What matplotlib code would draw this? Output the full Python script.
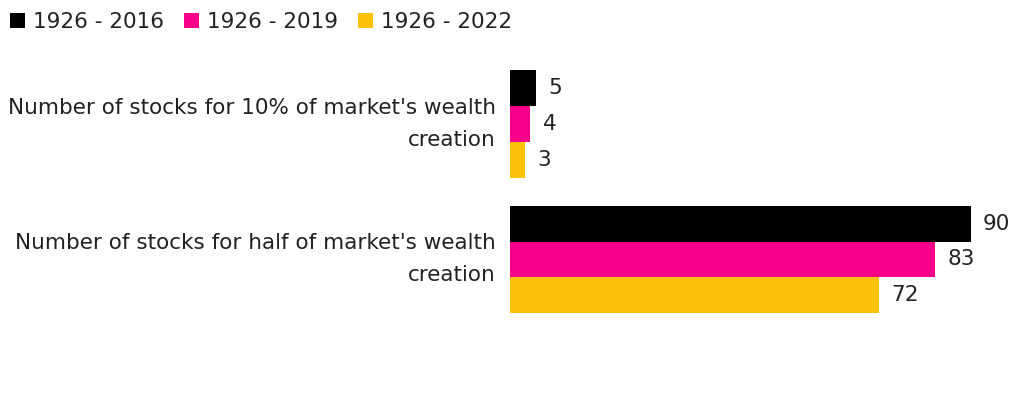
import numpy as np
import matplotlib
matplotlib.use("Agg")
import matplotlib.pyplot as plt

plt.rcParams['font.family'] = ['DejaVu Sans']

# Data
categories = ["Number of stocks for 10% of market's wealth\ncreation",
              "Number of stocks for half of market's wealth\ncreation"]
periods = ["1926 - 2016", "1926 - 2019", "1926 - 2022"]
values_2016 = [5, 90]
values_2019 = [4, 83]
values_2022 = [3, 72]
colors = ["#000000", "#f7018a", "#fdc10a"]

series = [values_2016, values_2019, values_2022]
fs = 15.5
txt_col = "#222222"

fig = plt.figure(figsize=(10.25, 3.97), dpi=100)
ax = fig.add_axes([510 / 1025, 0, 490 / 1025, 1])

y = np.arange(len(categories))
h = 0.265
for i, (vals, col, lab) in enumerate(zip(series, colors, periods)):
    pos = y + (i - 1) * h
    bars = ax.barh(pos, vals, height=h, color=col, label=lab)
    for b, v in zip(bars, vals):
        ax.text(b.get_width() + 2.4, b.get_y() + b.get_height() / 2, str(v),
                va="center", ha="left", fontsize=fs, color=txt_col)

ax.set_xlim(0, 95.7)
ax.set_ylim(2.015, -0.915)
ax.set_yticks(y)
ax.set_yticklabels(categories, fontsize=fs, color=txt_col, ha="right", va="center",
                   linespacing=1.75)
ax.tick_params(axis="y", length=0, pad=10)
ax.set_xticks([])
for s in ax.spines.values():
    s.set_visible(False)

leg = fig.legend(loc="center left", bbox_to_anchor=(10 / 1025, 1 - 22 / 397), ncol=3,
                 frameon=False, fontsize=fs, handlelength=0.7, handleheight=0.7,
                 handletextpad=0.37, columnspacing=0.93, borderpad=0, borderaxespad=0)
for t in leg.get_texts():
    t.set_color(txt_col)

fig.savefig("out.png", dpi=100)
